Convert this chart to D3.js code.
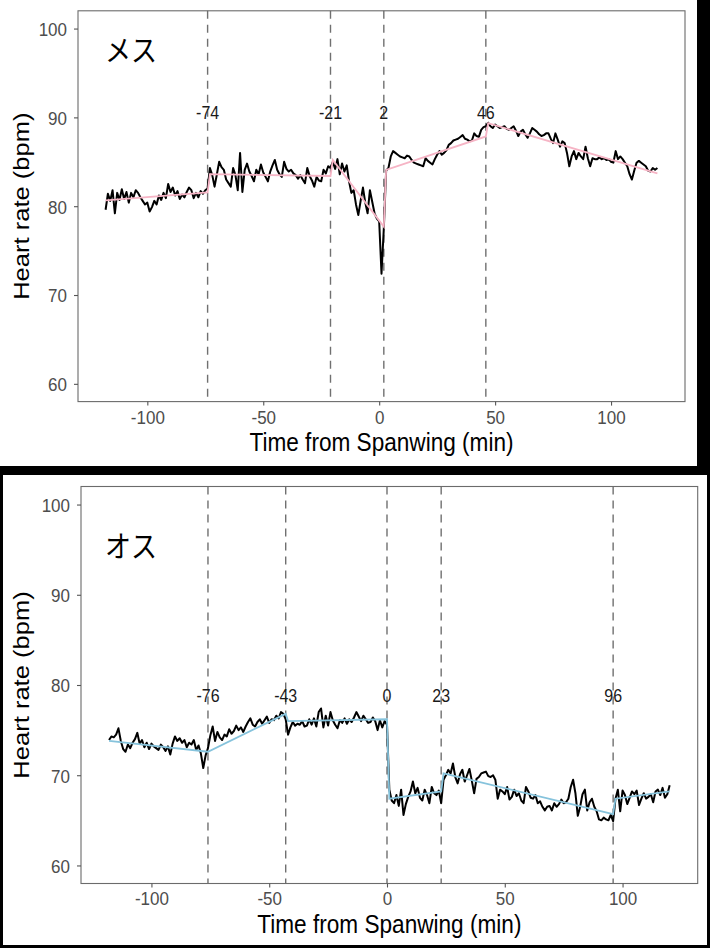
<!DOCTYPE html>
<html><head><meta charset="utf-8">
<script src="https://cdn.jsdelivr.net/npm/d3@7"></script>
<style>html,body{margin:0;padding:0;background:#fff;} svg{display:block}</style>
</head><body><svg id="c" width="710" height="948"></svg>
<script>
// ---- data ----
const timeStart = -118; // first minute of each series, one value per minute
const femaleHR = [
79.6,81.4,80.6,81.8,79.2,81.5,80.7,81.9,80.8,81.6,
80.4,81.5,81.0,81.8,81.5,81.0,80.6,80.2,80.4,79.4,
79.9,80.6,80.2,81.2,80.7,81.5,80.9,82.5,81.6,82.1,
81.2,81.7,80.8,81.3,81.0,81.6,82.1,81.8,80.9,81.5,
81.0,81.7,81.4,81.8,82.0,84.3,83.5,82.2,83.6,85.0,
84.4,84.1,83.0,82.6,82.2,84.3,83.5,81.8,86.0,81.6,
84.1,84.8,83.9,83.4,82.8,84.1,83.6,84.7,83.8,83.3,
82.8,83.9,84.6,85.2,84.1,83.6,83.3,85.0,84.2,83.9,
84.1,83.7,83.5,83.1,83.5,83.0,82.6,84.3,83.4,82.9,
82.2,83.3,82.9,82.8,84.1,83.7,84.5,84.3,85.0,84.2,
85.3,83.6,84.8,83.9,84.6,82.8,81.5,81.8,80.2,79.0,
80.6,82.1,80.4,79.2,81.8,80.5,79.2,78.6,78.3,72.4,
77.5,84.0,84.3,85.6,86.2,86.0,85.8,85.6,85.5,85.4,
85.7,85.6,85.2,84.9,84.8,84.7,84.6,84.5,85.4,85.1,
84.9,84.7,85.3,85.8,86.2,85.8,86.0,86.3,86.9,87.1,
87.4,87.5,87.6,87.8,88.0,87.6,87.5,87.3,87.4,88.2,
87.9,87.8,88.6,88.9,89.0,89.4,89.0,88.8,89.2,89.0,
88.8,88.9,89.0,88.7,88.6,88.8,89.0,88.5,87.9,88.4,
88.6,88.1,87.7,88.2,88.8,88.6,88.4,88.1,87.9,88.0,
88.2,88.2,87.6,87.1,88.2,87.5,86.7,87.3,87.1,86.0,
84.5,85.6,86.2,85.3,86.0,85.6,85.3,86.7,85.4,84.5,
85.4,85.3,85.3,85.5,85.3,85.4,85.2,85.3,85.0,84.9,
86.2,85.3,85.6,85.3,84.9,84.5,83.6,83.0,84.0,84.9,
85.1,84.9,84.7,84.5,84.0,83.9,84.3,84.1,84.3
];
const maleHR = [
73.9,74.3,74.2,74.5,75.2,73.8,72.9,72.6,73.4,73.0,
73.6,74.0,74.7,73.5,73.9,73.1,73.6,72.9,73.5,73.2,
73.0,72.8,73.4,73.1,72.7,73.2,72.3,73.5,74.3,73.8,
74.1,73.6,73.9,73.1,73.6,73.4,73.9,72.8,73.3,72.4,
70.8,72.2,73.0,74.4,75.4,73.8,74.8,74.2,73.9,74.5,
74.3,75.1,74.6,74.9,75.5,75.0,75.3,74.8,75.4,75.9,
76.3,75.6,75.4,75.9,76.2,75.7,76.1,76.5,75.8,76.2,
76.1,76.6,76.3,77.0,76.8,76.2,74.5,75.3,75.9,75.5,
75.7,75.6,76.0,75.4,75.5,76.2,75.6,76.3,75.4,77.0,
77.4,75.3,76.6,75.5,77.0,76.1,75.6,75.2,76.1,75.8,
76.3,75.7,76.2,75.9,76.4,77.0,76.5,76.0,76.6,76.2,
75.8,75.9,76.4,76.0,75.0,76.1,75.3,76.0,75.6,68.4,
67.2,66.9,67.8,66.6,68.4,65.6,66.8,67.6,68.2,69.3,
68.0,68.6,67.5,67.2,68.4,67.8,66.9,68.7,68.0,67.8,
68.3,66.9,69.5,70.0,70.6,70.2,71.3,69.8,69.1,70.1,
70.6,69.3,70.0,70.7,69.4,68.0,69.6,69.8,70.2,70.3,
70.4,69.9,69.8,70.0,69.5,67.4,68.4,68.2,67.9,68.7,
67.3,67.6,68.4,67.7,68.0,67.2,66.9,68.7,68.2,67.5,
67.4,67.8,66.9,67.1,66.5,66.1,66.5,66.6,66.1,66.9,
66.5,66.8,67.3,66.9,67.0,67.4,68.7,69.5,68.0,65.5,
66.5,67.9,68.4,66.1,67.0,67.4,66.5,66.0,65.1,65.0,
65.3,65.1,65.0,65.6,64.9,67.4,68.4,66.0,68.3,67.8,
66.8,67.5,68.2,67.9,68.3,66.7,67.4,68.0,67.4,67.6,
67.9,67.0,68.2,68.4,67.8,68.6,67.5,67.9,68.9
];
// segmented fits
const femaleFitT = [-118, -74, -73, -21, -20, 2, 3, 46, 47, 120];
const femaleFitV = [80.65, 81.56, 83.6, 83.4, 85.2, 77.7, 84.1, 87.85, 89.35, 83.7];
const maleFitT = [-118, -76, -43, -42, 0, 1, 23, 24, 96, 97, 120];
const maleFitV = [73.8, 72.6, 76.8, 76.0, 76.2, 67.4, 68.2, 70.2, 65.7, 67.4, 68.2];
// breakpoints (dashed lines and their labels)
const femaleBreaks = [-74, -21, 2, 46];
const maleBreaks = [-76, -43, 0, 23, 96];
// axes
const xTicks = [-100, -50, 0, 50, 100];
const yTicks = [60, 70, 80, 90, 100];
const xDomain = [-129.9, 131.9];
const yDomain = [58, 102];
const panelTitles = ["メス", "オス"];
const xTitle = "Time from Spanwing (min)";
const yTitle = "Heart rate (bpm)";

// ---- drawing ----
const svg = d3.select("#c");
svg.append("rect").attr("width", 710).attr("height", 948).attr("fill", "#fff");
const FONT = "'Liberation Sans', Arial, sans-serif";
const SY = 1.13; // vertical stretch of the original figure's lettering

const panels = [
  {title: panelTitles[0], values: femaleHR, fitT: femaleFitT, fitV: femaleFitV, breaks: femaleBreaks,
   fitColor: "#f6b4c5", labelV: 90.6, x0: 78, x1: 685, y0: 10.8, y1: 401.6, titleX: 105, titleY: 61},
  {title: panelTitles[1], values: maleHR, fitT: maleFitT, fitV: maleFitV, breaks: maleBreaks,
   fitColor: "#86c3dc", labelV: 78.8, x0: 81, x1: 697.7, y0: 486.5, y1: 883.5, titleX: 105, titleY: 557}
];

panels.forEach(p => {
  const x = d3.scaleLinear().domain(xDomain).range([p.x0, p.x1]);
  const y = d3.scaleLinear().domain(yDomain).range([p.y1, p.y0]);
  const g = svg.append("g");

  // dashed breakpoint lines
  g.selectAll("line.brk").data(p.breaks).join("line")
    .attr("x1", d => x(d)).attr("x2", d => x(d))
    .attr("y1", p.y0).attr("y2", p.y1)
    .attr("stroke", "#707070").attr("stroke-width", 1.4)
    .attr("stroke-dasharray", "8,6");

  // labels
  g.selectAll("text.brk").data(p.breaks).join("text")
    .attr("transform", d => `translate(${x(d)},${y(p.labelV)}) scale(1,${SY})`)
    .attr("dy", "0.36em")
    .attr("text-anchor", "middle").attr("font-family", FONT)
    .attr("font-size", 16).attr("fill", "#1a1a1a")
    .text(d => d);

  // raw series
  const line = d3.line().x((d, i) => x(timeStart + i)).y(d => y(d));
  g.append("path").datum(p.values).attr("d", line)
    .attr("fill", "none").attr("stroke", "#000").attr("stroke-width", 2)
    .attr("stroke-linejoin", "round");

  // fitted line
  const fitLine = d3.line().x((d, i) => x(p.fitT[i])).y(d => y(d));
  g.append("path").datum(p.fitV).attr("d", fitLine)
    .attr("fill", "none").attr("stroke", p.fitColor).attr("stroke-width", 1.8);

  // panel border
  g.append("rect").attr("x", p.x0).attr("y", p.y0)
    .attr("width", p.x1 - p.x0).attr("height", p.y1 - p.y0)
    .attr("fill", "none").attr("stroke", "#6b6b6b").attr("stroke-width", 1.1);

  // axes
  const ax = g.append("g").attr("transform", `translate(0,${p.y1})`)
    .call(d3.axisBottom(x).tickValues(xTicks).tickSize(4).tickFormat(d3.format("d")));
  const ay = g.append("g").attr("transform", `translate(${p.x0},0)`)
    .call(d3.axisLeft(y).tickValues(yTicks).tickSize(4).tickFormat(d3.format("d")));
  [ax, ay].forEach(a => {
    a.select(".domain").remove();
    a.selectAll(".tick line").attr("stroke", "#555").attr("stroke-width", 1.1);
    a.selectAll(".tick text").attr("fill", "#4d4d4d").attr("font-size", 17).attr("font-family", FONT)
      .attr("x", null).attr("y", null).attr("dy", "0.36em");
  });
  ax.selectAll(".tick text").attr("transform", `translate(0,15) scale(1,${SY})`)
    .text(d => d < 0 ? "-" + Math.abs(d) : d);
  ay.selectAll(".tick text").attr("transform", `translate(-11,0) scale(1,${SY})`);

  // axis titles
  g.append("text").attr("transform", `translate(${(p.x0 + p.x1) / 2},${p.y1 + 49}) scale(1,${SY})`)
    .attr("text-anchor", "middle").attr("font-family", FONT).attr("font-size", 22.6)
    .attr("fill", "#000").text(xTitle);
  g.append("text").attr("transform", `translate(29,${(p.y0 + p.y1) / 2}) scale(1,${SY}) rotate(-90)`)
    .attr("text-anchor", "middle").attr("font-family", FONT).attr("font-size", 22.6)
    .attr("fill", "#000").text(yTitle);

  // panel title (Japanese)
  g.append("text").attr("transform", `translate(${p.titleX},${p.titleY}) scale(1,${SY})`)
    .attr("font-family", "'Noto Sans CJK JP', sans-serif").attr("font-size", 26)
    .attr("fill", "#000").text(p.title);
});

// black frame pieces of the composite image
const frame = [
  [697, 0, 13, 475],
  [0, 466, 710, 9],
  [0, 466, 3, 482],
  [707, 466, 3, 482],
  [0, 945, 710, 3]
];
svg.selectAll("rect.frame").data(frame).join("rect").attr("class", "frame")
  .attr("x", d => d[0]).attr("y", d => d[1]).attr("width", d => d[2]).attr("height", d => d[3])
  .attr("fill", "#000");
</script></body></html>
